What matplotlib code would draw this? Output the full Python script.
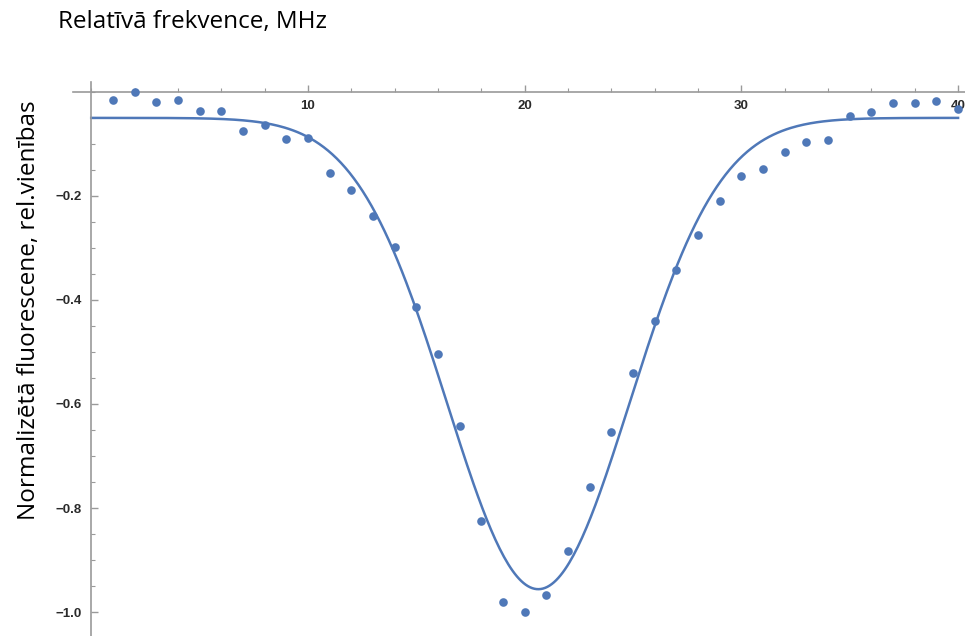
import numpy as np
import matplotlib.pyplot as plt
from matplotlib.ticker import MultipleLocator

# measured points: frequency step (MHz) and normalised fluorescence
freq = list(range(1, 41))
signal = [-0.015, 0.000, -0.019, -0.015, -0.036, -0.036, -0.076, -0.064, -0.090, -0.088,
          -0.156, -0.188, -0.238, -0.298, -0.413, -0.504, -0.642, -0.825, -0.981, -1.000,
          -0.967, -0.883, -0.760, -0.654, -0.540, -0.440, -0.342, -0.275, -0.210, -0.161,
          -0.149, -0.115, -0.097, -0.092, -0.047, -0.038, -0.021, -0.021, -0.017, -0.033]

# gaussian fit parameters: offset, depth, centre, width
fit_offset = -0.05
fit_depth = 0.906
fit_centre = 20.63
fit_sigma = 4.2

x_ticks = [10, 20, 30, 40]
y_ticks = [-1.0, -0.8, -0.6, -0.4, -0.2]
y_ticklabels = ['\u22121.0', '\u22120.8', '\u22120.6', '\u22120.4', '\u22120.2']

blue = '#4f78b8'
axis_grey = '#9a9a9a'
label_font = ['Open Sans', 'DejaVu Sans']

fig = plt.figure(figsize=(9.65, 6.36), dpi=100)
W, H = 965, 636
ax = fig.add_axes([73 / W, 0, (965 - 73) / W, (636 - 82) / H])

xf = np.linspace(0, 40, 400)
yf = fit_offset - fit_depth * np.exp(-(xf - fit_centre) ** 2 / (2 * fit_sigma ** 2))
ax.plot(xf, yf, color=blue, lw=1.8, zorder=2)
ax.plot(freq, signal, 'o', color=blue, ms=6.2, mec='none', zorder=3, clip_on=False)

ax.set_xlim(-0.84, 40.32)
ax.set_ylim(-1.046, 0.019)

for s in ['top', 'right']:
    ax.spines[s].set_visible(False)
ax.spines['bottom'].set_position(('data', 0))
ax.spines['left'].set_position(('data', 0))
for s in ['bottom', 'left']:
    ax.spines[s].set_color(axis_grey)
    ax.spines[s].set_linewidth(1.2)

ax.set_xticks(x_ticks)
ax.set_yticks(y_ticks)
ax.set_yticklabels(y_ticklabels)
ax.xaxis.set_minor_locator(MultipleLocator(2))
ax.yaxis.set_minor_locator(MultipleLocator(0.05))

ax.tick_params(axis='both', which='both', direction='in', color=axis_grey,
               labelcolor='#2a2a2a', labelsize=9.5)
ax.tick_params(axis='both', which='major', length=5, width=1)
ax.tick_params(axis='both', which='minor', length=3, width=0.8)
ax.tick_params(axis='x', pad=6)
ax.tick_params(axis='y', pad=7)
for lab in ax.get_xticklabels() + ax.get_yticklabels():
    lab.set_fontweight('bold')
    lab.set_family(['Liberation Sans', 'DejaVu Sans'])

fig.text(58 / W, 1 - 22 / H, 'Relatīvā frekvence, MHz', fontsize=17.5,
         family=label_font, va='center', ha='left')
fig.text(29 / W, 1 - 310 / H, 'Normalizētā fluorescene, rel.vienības', fontsize=17.5,
         family=label_font, rotation=90, va='center', ha='center')

fig.savefig('out.png', dpi=100)
